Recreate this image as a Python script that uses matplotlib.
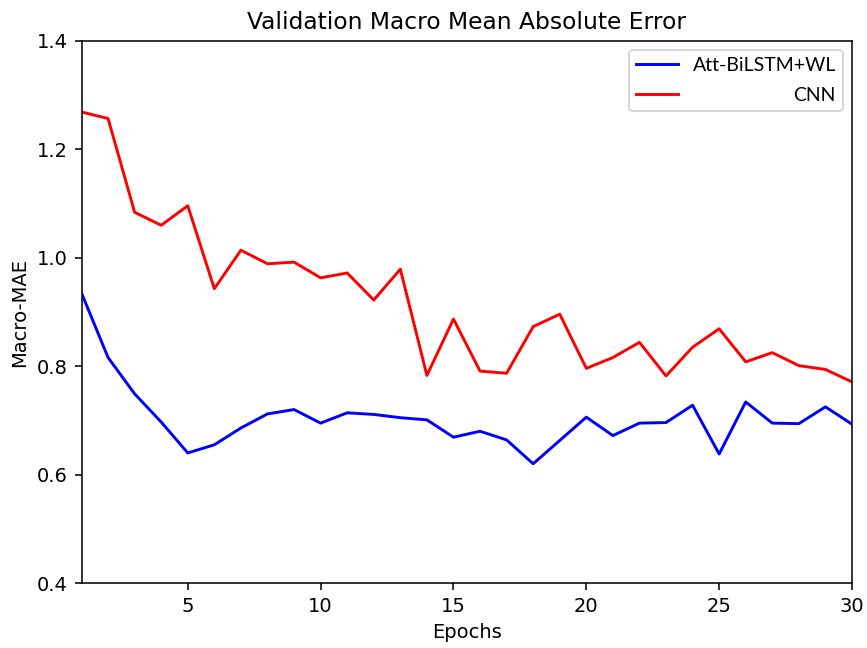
import numpy as np
import matplotlib
matplotlib.use("Agg")
import matplotlib.pyplot as plt

epochs = np.arange(1, 31)

att_bilstm_wl = [0.935, 0.816, 0.749, 0.697, 0.640, 0.655, 0.686, 0.712, 0.720, 0.695,
                 0.714, 0.711, 0.705, 0.701, 0.669, 0.680, 0.664, 0.620, 0.663, 0.706,
                 0.672, 0.695, 0.696, 0.728, 0.638, 0.734, 0.695, 0.694, 0.725, 0.693]

cnn = [1.269, 1.257, 1.084, 1.060, 1.096, 0.943, 1.014, 0.989, 0.992, 0.963,
       0.972, 0.922, 0.979, 0.783, 0.887, 0.791, 0.787, 0.873, 0.896, 0.796,
       0.816, 0.844, 0.782, 0.835, 0.869, 0.808, 0.825, 0.801, 0.794, 0.771]

labels = ['Att-BiLSTM+WL', 'CNN']

DPI = 140
fig = plt.figure(figsize=(867 / DPI, 648 / DPI), dpi=DPI)
ax = fig.add_axes([81.5 / 867, 1 - 583 / 648, (852 - 81.5) / 867, (583 - 41) / 648])

ax.plot(epochs, att_bilstm_wl, color='blue', label=labels[0])
ax.plot(epochs, cnn, color='red', label=labels[1])

ax.set_xlim(1, 30)
ax.set_ylim(0.4, 1.4)
ax.set_xticks([5, 10, 15, 20, 25, 30])
ax.set_yticks([0.4, 0.6, 0.8, 1.0, 1.2, 1.4])
ax.set_title('Validation Macro Mean Absolute Error')
ax.set_xlabel('Epochs')
ax.set_ylabel('Macro-MAE')

leg = ax.legend(loc='upper right', prop={'family': 'Lato', 'size': 10.0},
                borderpad=0.38, labelspacing=0.65, handlelength=2.15,
                handletextpad=0.75, borderaxespad=0.45)

# right-align the legend texts inside the box
fig.canvas.draw()
texts = leg.get_texts()
widths = [t.get_window_extent().width for t in texts]
maxw = max(widths)
for t, w in zip(texts, widths):
    t.set_position((maxw - w, 0))

fig.savefig('out.png', dpi=DPI)
